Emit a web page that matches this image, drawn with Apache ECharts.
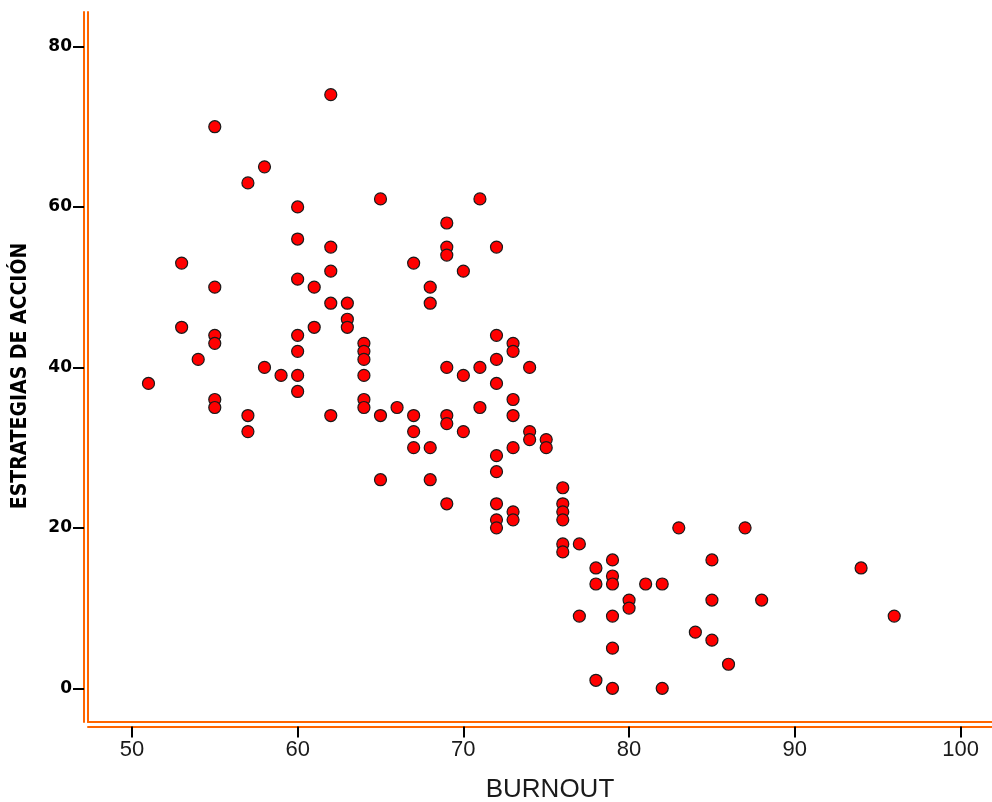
<!DOCTYPE html>
<html>
<head>
<meta charset="utf-8">
<script src="https://cdn.jsdelivr.net/npm/echarts@6/dist/echarts.min.js"></script>
<style>
  html, body { margin: 0; padding: 0; background: #fff; }
  #chart { width: 992px; height: 802px; }
</style>
</head>
<body>
<div id="chart"></div>
<script>
// Burnout score vs. action-strategy score, one point per respondent
const burnout = [
  51,
  53, 53,
  54,
  55, 55, 55, 55, 55, 55,
  57, 57, 57,
  58, 58,
  59,
  60, 60, 60, 60, 60, 60, 60,
  61, 61,
  62, 62, 62, 62, 62,
  63, 63, 63,
  64, 64, 64, 64, 64, 64,
  65, 65, 65,
  66,
  67, 67, 67, 67,
  68, 68, 68, 68,
  69, 69, 69, 69, 69, 69, 69,
  70, 70, 70,
  71, 71, 71,
  72, 72, 72, 72, 72, 72, 72, 72, 72,
  73, 73, 73, 73, 73, 73, 73,
  74, 74, 74,
  75, 75,
  76, 76, 76, 76, 76, 76,
  77, 77,
  78, 78, 78,
  79, 79, 79, 79, 79, 79,
  80, 80,
  81,
  82, 82,
  83,
  84,
  85, 85, 85,
  86,
  87,
  88,
  94,
  96
];
const estrategias = [
  38,
  53, 45,
  41,
  70, 50, 44, 43, 36, 35,
  63, 34, 32,
  65, 40,
  39,
  60, 56, 51, 44, 42, 39, 37,
  50, 45,
  74, 55, 52, 48, 34,
  48, 46, 45,
  43, 42, 41, 39, 36, 35,
  61, 34, 26,
  35,
  53, 34, 32, 30,
  50, 48, 30, 26,
  58, 55, 54, 40, 34, 33, 23,
  52, 39, 32,
  61, 40, 35,
  55, 44, 41, 38, 29, 27, 23, 21, 20,
  43, 42, 36, 34, 30, 22, 21,
  40, 32, 31,
  31, 30,
  25, 23, 22, 21, 18, 17,
  18, 9,
  15, 13, 1,
  16, 14, 13, 9, 5, 0,
  11, 10,
  13,
  13, 0,
  20,
  7,
  16, 11, 6,
  3,
  20,
  11,
  15,
  9
];
const xTicks = [50, 60, 70, 80, 90, 100];
const yTicks = [0, 20, 40, 60, 80];
const xTitle = 'BURNOUT';
const yTitle = 'ESTRATEGIAS DE ACCIÓN';

const points = burnout.map((b, i) => [b, estrategias[i]]);

const ORANGE = '#ff6600';
const xRange = { min: 47.35, max: 101.9 };
const yRange = { min: -4.2, max: 84.3 };

const chart = echarts.init(document.getElementById('chart'), null, { renderer: 'canvas' });

const plainLine = { show: true, onZero: false, lineStyle: { color: ORANGE, width: 2 } };

chart.setOption({
  animation: false,
  backgroundColor: '#ffffff',
  grid: { left: 88, top: 12, right: 0, bottom: 80, containLabel: false, outerBoundsMode: 'none' },
  xAxis: [
    {
      type: 'value', position: 'bottom', ...xRange,
      axisLine: plainLine, axisTick: { show: false }, axisLabel: { show: false },
      splitLine: { show: false }
    },
    {
      type: 'value', position: 'bottom', offset: 4.5, ...xRange,
      axisLine: plainLine,
      axisTick: { show: true, length: 11, customValues: xTicks, lineStyle: { color: '#000', width: 2 } },
      axisLabel: {
        show: true, customValues: xTicks, margin: 12,
        fontFamily: 'Liberation Sans, Arial, sans-serif', fontSize: 22, color: '#1a1a1a'
      },
      splitLine: { show: false },
      name: xTitle, nameLocation: 'middle', nameGap: 50,
      nameTextStyle: {
        fontFamily: 'Liberation Sans, Arial, sans-serif', fontSize: 26, color: '#1a1a1a',
        padding: [0, 0, 0, 20]
      }
    }
  ],
  yAxis: [
    {
      type: 'value', position: 'left', ...yRange,
      axisLine: plainLine, axisTick: { show: false }, axisLabel: { show: false },
      splitLine: { show: false }
    },
    {
      type: 'value', position: 'left', offset: 4, ...yRange,
      axisLine: plainLine,
      axisTick: { show: true, length: 11, customValues: yTicks, lineStyle: { color: '#000', width: 2 } },
      axisLabel: {
        show: true, customValues: yTicks, margin: 12,
        fontFamily: 'DejaVu Sans, sans-serif', fontWeight: 'bold', fontSize: 17, color: '#000'
      },
      splitLine: { show: false },
      name: yTitle, nameLocation: 'middle', nameGap: 53, nameRotate: 90,
      nameTextStyle: {
        fontFamily: 'DejaVu Sans Condensed, DejaVu Sans, sans-serif', fontWeight: 'bold',
        fontSize: 21, color: '#000', padding: [0, 18, 0, 0]
      }
    }
  ],
  series: [
    {
      type: 'scatter',
      xAxisIndex: 0, yAxisIndex: 0,
      data: points,
      symbol: 'circle',
      symbolSize: 12,
      itemStyle: { color: '#ff0000', borderColor: '#1a1a1a', borderWidth: 1.2, opacity: 1 },
      emphasis: { disabled: true }
    }
  ]
});
</script>
</body>
</html>
